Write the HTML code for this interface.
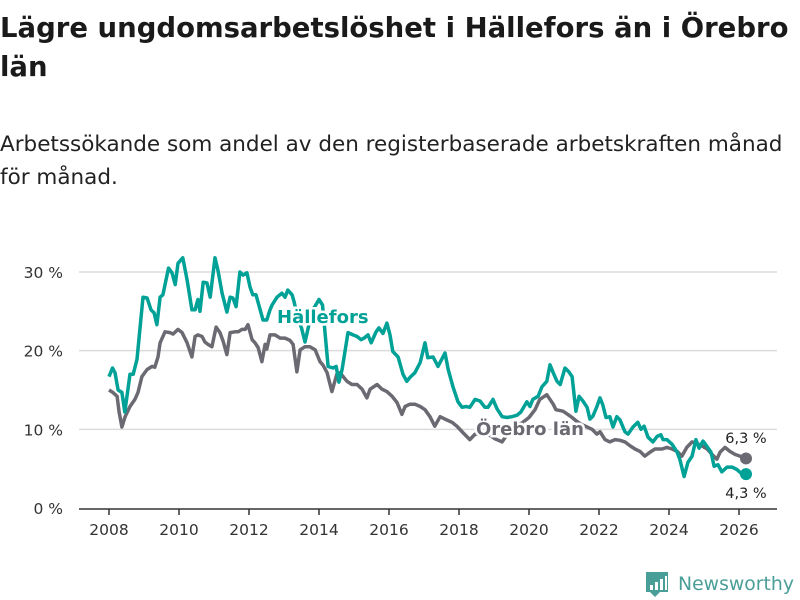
<!DOCTYPE html>
<html><head><meta charset="utf-8">
<style>
body{margin:0;background:#fff;font-family:"DejaVu Sans","Liberation Sans",sans-serif;}
#wrap{position:relative;width:800px;height:600px;overflow:hidden;}
h1{position:absolute;left:0;top:9px;margin:0;font-size:27.5px;line-height:39px;font-weight:bold;color:#1a1a1a;width:800px;}
p.sub{position:absolute;left:0;top:128px;margin:0;font-size:21.5px;line-height:33px;color:#222;width:790px;}
svg{position:absolute;left:0;top:0;}
</style></head><body>
<div id="wrap">
<h1>Lägre ungdomsarbetslöshet i Hällefors än i Örebro län</h1>
<p class="sub">Arbetssökande som andel av den registerbaserade arbetskraften månad för månad.</p>
<svg id="chart" width="800" height="600"></svg>
</div>
<script>
const yTicks=[0,10,20,30];
const yTickLabels=["0 %","10 %","20 %","30 %"];
const xTicks=[2008,2010,2012,2014,2016,2018,2020,2022,2024,2026];
const hallYears=[2008.0,2008.1,2008.17,2008.26,2008.37,2008.45,2008.6,2008.69,2008.8,2008.97,2009.09,2009.2,2009.29,2009.37,2009.46,2009.54,2009.7,2009.8,2009.89,2009.97,2010.11,2010.23,2010.37,2010.46,2010.54,2010.6,2010.69,2010.8,2010.89,2011.03,2011.11,2011.23,2011.37,2011.46,2011.54,2011.63,2011.74,2011.83,2011.94,2012.03,2012.11,2012.2,2012.4,2012.51,2012.6,2012.66,2012.8,2012.94,2013.03,2013.11,2013.23,2013.29,2013.4,2013.5,2013.6,2013.8,2014.0,2014.1,2014.26,2014.4,2014.49,2014.57,2014.66,2014.83,2014.97,2015.09,2015.2,2015.29,2015.4,2015.49,2015.63,2015.71,2015.83,2015.94,2016.03,2016.11,2016.26,2016.4,2016.51,2016.6,2016.74,2016.89,2017.03,2017.11,2017.26,2017.4,2017.6,2017.69,2017.83,2017.97,2018.09,2018.2,2018.31,2018.46,2018.6,2018.74,2018.83,2018.97,2019.09,2019.23,2019.37,2019.51,2019.66,2019.77,2019.94,2020.03,2020.11,2020.26,2020.37,2020.51,2020.6,2020.69,2020.8,2020.89,2021.03,2021.14,2021.23,2021.34,2021.43,2021.54,2021.66,2021.74,2021.83,2021.94,2022.03,2022.11,2022.2,2022.31,2022.4,2022.51,2022.6,2022.74,2022.83,2022.97,2023.11,2023.2,2023.29,2023.4,2023.54,2023.66,2023.77,2023.83,2023.94,2024.09,2024.23,2024.31,2024.43,2024.54,2024.66,2024.77,2024.86,2024.97,2025.09,2025.2,2025.29,2025.4,2025.51,2025.66,2025.8,2025.94,2026.09,2026.2];
const hallValues=[16.7,17.8,17.2,15,14.7,12.2,17,17,18.9,26.8,26.7,25.2,24.8,23.3,26.8,27.1,30.5,29.9,28.4,31.1,31.8,29,25.2,25.2,26.5,25,28.7,28.6,26.8,31.8,30.3,27.3,24.9,26.8,26.7,25.6,30,29.6,29.9,28.1,27.1,27.1,23.9,23.9,25.2,25.8,26.8,27.3,26.8,27.7,27.1,26.2,24,22.9,21.1,25,26.5,25.8,18,17.8,18,16,17.6,22.3,22,21.8,21.4,21.6,22,21,22.4,22.9,22.2,23.5,22,19.9,19.2,17,16.1,16.6,17.2,18.5,21,19.1,19.2,18,19.7,17.6,15.4,13.5,12.8,12.9,12.8,13.8,13.6,12.8,12.8,13.8,12.6,11.6,11.5,11.6,11.8,12.2,13.5,12.9,13.8,14.2,15.4,16.1,18.2,17.2,16.1,15.7,17.8,17.3,16.7,12.3,14.2,13.6,12.8,11.3,11.7,12.9,14,13.1,11.5,11.6,10.3,11.6,11.2,9.7,9.4,10.3,10.9,10,10.4,9,8.4,9.1,9.3,8.7,8.7,8.1,7.1,6.2,4,5.8,6.6,8.7,7.6,8.5,7.8,7.1,5.3,5.5,4.6,5.2,5.2,4.9,4.3];
const oreYears=[2008.0,2008.11,2008.23,2008.29,2008.37,2008.46,2008.6,2008.74,2008.83,2008.94,2009.09,2009.23,2009.31,2009.4,2009.46,2009.6,2009.74,2009.83,2009.97,2010.09,2010.23,2010.37,2010.46,2010.54,2010.66,2010.74,2010.83,2010.94,2011.06,2011.17,2011.26,2011.37,2011.46,2011.6,2011.69,2011.8,2011.89,2011.97,2012.09,2012.17,2012.26,2012.37,2012.46,2012.51,2012.6,2012.74,2012.89,2013.03,2013.17,2013.26,2013.37,2013.46,2013.6,2013.74,2013.89,2014.03,2014.11,2014.23,2014.37,2014.51,2014.6,2014.8,2014.94,2015.09,2015.23,2015.37,2015.46,2015.66,2015.8,2015.94,2016.09,2016.23,2016.37,2016.46,2016.6,2016.74,2016.89,2017.03,2017.17,2017.31,2017.46,2017.6,2017.8,2017.94,2018.11,2018.31,2018.46,2018.6,2018.74,2018.89,2019.03,2019.23,2019.4,2019.6,2019.8,2020.0,2020.17,2020.31,2020.51,2020.69,2020.77,2020.97,2021.11,2021.23,2021.37,2021.51,2021.66,2021.8,2021.94,2022.03,2022.17,2022.31,2022.46,2022.6,2022.74,2022.89,2023.03,2023.17,2023.31,2023.46,2023.6,2023.8,2023.94,2024.09,2024.23,2024.37,2024.51,2024.66,2024.8,2024.94,2025.09,2025.23,2025.37,2025.46,2025.6,2025.74,2025.89,2026.03,2026.2];
const oreValues=[15,14.7,14.2,12.2,10.3,11.6,12.9,13.8,14.7,16.7,17.6,18,17.9,19.2,21,22.4,22.3,22.1,22.7,22.3,21,19.2,21.8,22,21.8,21.1,20.8,20.5,23,22.3,21.2,19.5,22.3,22.4,22.4,22.7,22.7,23.3,21.4,21,20.4,18.6,20.8,20.2,22,22,21.6,21.6,21.3,20.8,17.3,20.1,20.5,20.5,20.1,18.6,18.2,17.2,14.8,17,17.2,16.1,15.7,15.7,15.1,14,15.1,15.7,15.1,14.8,14.2,13.4,11.9,12.9,13.2,13.2,12.9,12.5,11.6,10.4,11.6,11.3,10.9,10.4,9.6,8.7,9.4,9.4,9.5,9.2,8.8,8.4,9.5,10.5,10.8,11.5,12.5,13.8,14.4,13.2,12.5,12.3,11.9,11.5,11,10.6,10.3,10,9.4,9.7,8.7,8.4,8.7,8.6,8.4,7.9,7.5,7.2,6.6,7.1,7.5,7.5,7.7,7.5,7.2,6.6,7.7,8.4,8.2,7.9,7.5,6.8,6.2,7.1,7.7,7.2,6.8,6.6,6.3];
const NS="http://www.w3.org/2000/svg";
const svg=document.getElementById('chart');
const L=79,R=777,X0=109,X1=739,Y0=508,Y30=272;
function xs(v){return X0+(v-2008)*(X1-X0)/18;}
function ys(v){return Y0-v*(Y0-Y30)/30;}
function mk(t,a,txt){const e=document.createElementNS(NS,t);for(const k in a)e.setAttribute(k,a[k]);if(txt!==undefined)e.textContent=txt;svg.appendChild(e);return e;}
yTicks.forEach((t,i)=>{
  if(t>0){const g=mk('line',{x1:L,x2:R,y1:ys(t),y2:ys(t),stroke:'#dcdcdc','stroke-width':1.5});
  
  }
  const tl=mk('text',{x:63,y:ys(t)+6,'text-anchor':'end','font-size':15.5,fill:'#333'},yTickLabels[i]);
  
  
});
const ax=mk('line',{x1:L,x2:R,y1:Y0+1,y2:Y0+1,stroke:'#333','stroke-width':1.5});


xTicks.forEach(t=>{
  const tk=mk('line',{x1:xs(t),x2:xs(t),y1:Y0+1,y2:Y0+7,stroke:'#333','stroke-width':1.5});
  
  
  const tl=mk('text',{x:xs(t),y:Y0+27,'text-anchor':'middle','font-size':15.5,fill:'#333'},String(t));
  
  
});
function path(xsArr,vals){return xsArr.map((x,i)=>(i?'L':'M')+xs(x).toFixed(1)+','+ys(vals[i]).toFixed(1)).join('');}
const lo=mk('path',{d:path(oreYears,oreValues),fill:'none',stroke:'#6b6a72','stroke-width':3.5,'stroke-linejoin':'round'});


const lh=mk('path',{d:path(hallYears,hallValues),fill:'none',stroke:'#00a196','stroke-width':3.5,'stroke-linejoin':'round'});


const d1=mk('circle',{cx:xs(oreYears[oreYears.length-1]),cy:ys(oreValues[oreValues.length-1]),r:6,fill:'#6b6a72'});


const d2=mk('circle',{cx:xs(hallYears[hallYears.length-1]),cy:ys(hallValues[hallValues.length-1]),r:6,fill:'#00a196'});


const lab1=mk('text',{x:277,y:323,'font-size':18,'font-weight':'bold',fill:'#00a196',stroke:'#fff','stroke-width':5,'paint-order':'stroke'},'Hällefors');


const lab2=mk('text',{x:476,y:435,'font-size':18,'font-weight':'bold',fill:'#6b6a72',stroke:'#fff','stroke-width':5,'paint-order':'stroke'},'Örebro län');


const v1=mk('text',{x:746,y:443,'text-anchor':'middle','font-size':14.5,fill:'#222'},'6,3 %');


const v2=mk('text',{x:746,y:498,'text-anchor':'middle','font-size':14.5,fill:'#222'},'4,3 %');


// logo
const lg=mk('g',{});


const ic=document.createElementNS(NS,'path');
ic.setAttribute('d','M646,572 h22 v20 h-8 l-5,5 l-5,-5 h-4 z');
ic.setAttribute('fill','#4a9e98');
lg.appendChild(ic);
[[650,585,3,5],[655,582,3,8],[660,579,3,11],[665,576,2,14]].forEach(b=>{const r=document.createElementNS(NS,'rect');r.setAttribute('x',b[0]);r.setAttribute('y',b[1]);r.setAttribute('width',b[2]);r.setAttribute('height',b[3]);r.setAttribute('fill','#fff');lg.appendChild(r);});
const lt=document.createElementNS(NS,'text');
lt.setAttribute('x',678);lt.setAttribute('y',590);lt.setAttribute('font-size',19);lt.setAttribute('fill','#4a9e98');
lt.setAttribute('textLength',116);lt.setAttribute('lengthAdjust','spacingAndGlyphs');
lt.textContent='Newsworthy';
lg.appendChild(lt);
</script>
</body></html>
